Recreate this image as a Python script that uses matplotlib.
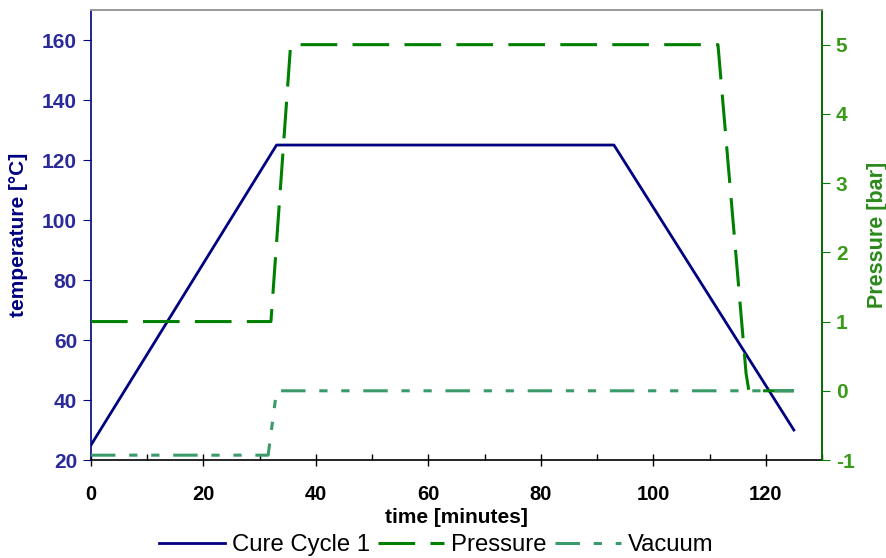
import matplotlib
matplotlib.use("Agg")
from matplotlib import pyplot as plt
from matplotlib.ticker import MultipleLocator

plt.rcParams['font.family'] = ['Liberation Sans', 'DejaVu Sans']
plt.rcParams['axes.unicode_minus'] = False

# cure cycle data
temp_time = [0, 33, 93, 125]
temp_vals = [25, 125, 125, 30]

pres_time = [0, 32, 35.5, 111.5, 116.5, 117, 125]
pres_vals = [1, 1, 5, 5, 0.25, 0, 0]

vac_time = [0, 31.5, 33, 125]
vac_vals = [-0.93, -0.93, 0, 0]

navy = '#000080'
green = '#008000'
vac_green = '#3a9a6a'

fig = plt.figure(figsize=(8.87, 5.58), dpi=100)
ax = fig.add_axes([0.1026, 0.1756, 0.8241, 0.8064])
ax2 = ax.twinx()

l1, = ax.plot(temp_time, temp_vals, color=navy, lw=2)
l2, = ax2.plot(pres_time, pres_vals, color=green, lw=2.2, dashes=(12, 5))
l3, = ax2.plot(vac_time, vac_vals, color=vac_green, lw=2.2, dashes=(8, 4.5, 2.7, 4.5, 2.7, 4.5))

ax.set_xlim(0, 130)
ax.set_ylim(20, 170)
ax2.set_ylim(-1, 5.5)

ax.xaxis.set_major_locator(MultipleLocator(20))
ax.xaxis.set_minor_locator(MultipleLocator(10))
ax.set_yticks([20, 40, 60, 80, 100, 120, 140, 160])
ax2.set_yticks([-1, 0, 1, 2, 3, 4, 5])

ax.tick_params(axis='x', which='major', direction='inout', length=8, width=1, labelsize=14.5, pad=14)
ax.tick_params(axis='x', which='minor', direction='in', length=4, width=1)
ax.tick_params(axis='y', direction='out', length=6, color=navy, labelcolor='#2a2a9a', labelsize=15, pad=4)
ax2.tick_params(axis='y', direction='out', length=6, color=green, labelcolor='#3a9a1a', labelsize=15, pad=4)
for lab in ax.get_xticklabels() + ax.get_yticklabels() + ax2.get_yticklabels():
    lab.set_fontweight('bold')

ax.spines['left'].set_color(navy)
ax.spines['bottom'].set_color('black')
ax.spines['top'].set_color('#999999')
ax2.spines['right'].set_color(green)
ax2.spines['left'].set_visible(False)
ax2.spines['top'].set_color('#999999')
ax2.spines['bottom'].set_visible(False)
for s in ['left', 'right', 'bottom', 'top']:
    ax.spines[s].set_linewidth(1.2)
    ax2.spines[s].set_linewidth(1.2)

ax.set_xlabel('time [minutes]', fontsize=15, fontweight='bold', labelpad=3)
ax.set_ylabel('temperature [°C]', fontsize=15, fontweight='bold', color=navy, labelpad=10)
ax2.set_ylabel('Pressure [bar]', fontsize=15.5, fontweight='bold', color='#2a8a1a', labelpad=9)

fig.legend([l1, l2, l3], ['Cure Cycle 1', 'Pressure', 'Vacuum'], loc='lower center',
           bbox_to_anchor=(0.492, -0.035), ncol=3, frameon=False, fontsize=17.2,
           handlelength=2.75, columnspacing=0.35, handletextpad=0.3)

fig.savefig('out.png', dpi=100)
